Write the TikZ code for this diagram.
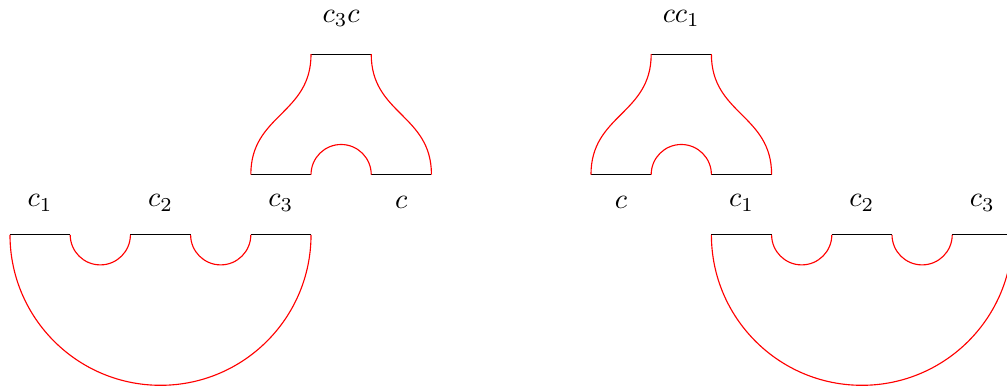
\documentclass[tikz,border=0pt]{standalone}
\begin{document}
\begin{tikzpicture}[x=0.75cm,y=0.75cm,
  bnd/.style={black},
  crv/.style={red},
  lab/.style={inner sep=0pt}]
\useasboundingbox (-0.166,-2.5) rectangle (16.56,3.9);

% left lower piece
\draw[bnd] (0,0)--(1,0) (2,0)--(3,0) (4,0)--(5,0);
\draw[crv] (1,0) arc[start angle=180,end angle=360,radius=0.5];
\draw[crv] (3,0) arc[start angle=180,end angle=360,radius=0.5];
\draw[crv] (0,0) arc[start angle=180,end angle=360,radius=2.5];

% left pants
\begin{scope}[shift={(4,1)}]
\draw[bnd] (0,0)--(1,0) (2,0)--(3,0) (1,2)--(2,2);
\draw[crv] (1,0) arc[start angle=180,end angle=0,radius=0.5];
\draw[crv] (0,0) .. controls (0,1) and (1,1) .. (1,2);
\draw[crv] (3,0) .. controls (3,1) and (2,1) .. (2,2);
\end{scope}

% right pants
\begin{scope}[shift={(9.65,1)}]
\draw[bnd] (0,0)--(1,0) (2,0)--(3,0) (1,2)--(2,2);
\draw[crv] (1,0) arc[start angle=180,end angle=0,radius=0.5];
\draw[crv] (0,0) .. controls (0,1) and (1,1) .. (1,2);
\draw[crv] (3,0) .. controls (3,1) and (2,1) .. (2,2);
\end{scope}

% right lower piece
\begin{scope}[shift={(11.65,0)}]
\draw[bnd] (0,0)--(1,0) (2,0)--(3,0) (4,0)--(5,0);
\draw[crv] (1,0) arc[start angle=180,end angle=360,radius=0.5];
\draw[crv] (3,0) arc[start angle=180,end angle=360,radius=0.5];
\draw[crv] (0,0) arc[start angle=180,end angle=360,radius=2.5];
\end{scope}

% labels
\node[lab] (l1) at (0.5,0.53) {$c_1$};
\node[lab] (l2) at (2.5,0.53) {$c_2$};
\node[lab] (l3) at (4.5,0.53) {$c_3$};
\node[lab] (l4) at (6.5,0.53) {$c$};
\node[lab] (l5) at (5.5,3.6) {$c_3c$};
\node[lab] (r5) at (11.15,3.6) {$cc_1$};
\node[lab] (r4) at (10.15,0.53) {$c$};
\node[lab] (r1) at (12.15,0.53) {$c_1$};
\node[lab] (r2) at (14.15,0.53) {$c_2$};
\node[lab] (r3) at (16.15,0.53) {$c_3$};
\end{tikzpicture}
\end{document}
